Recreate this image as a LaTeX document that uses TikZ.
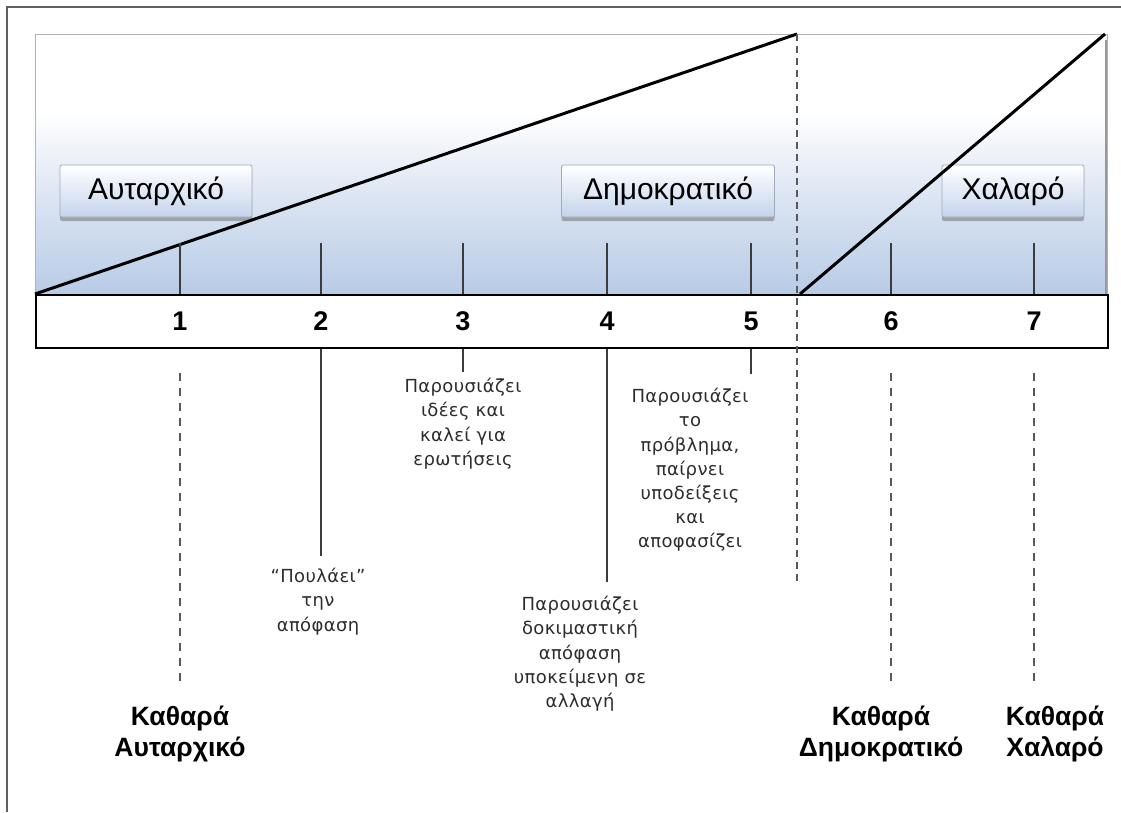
\documentclass[tikz,border=0pt]{standalone}
\usepackage{fontspec}
\setmainfont{Liberation Sans}
\newfontfamily\descfont[LetterSpace=2]{DejaVu Sans}
\usetikzlibrary{shadows}

\definecolor{panelblue}{RGB}{184,203,230}
\definecolor{boxblue}{RGB}{196,212,236}
\definecolor{boxedge}{RGB}{160,170,186}
\definecolor{tickgray}{RGB}{60,60,60}
\definecolor{framegray}{RGB}{95,95,95}
\definecolor{desctext}{RGB}{45,45,45}

% vertical fade of the background panel (path spans 25bp..75bp)
\pgfdeclareverticalshading{panelfade}{100bp}{%
  color(0bp)=(panelblue); color(25bp)=(panelblue);
  color(42bp)=(panelblue!55!white); color(60bp)=(white);
  color(75bp)=(white); color(100bp)=(white)}

\tikzset{
  frameline/.style={framegray, line width=1.6pt},
  panel/.style={shading=panelfade, draw=black!30, line width=0.8pt},
  scalestrip/.style={draw=black, line width=1.6pt, fill=white, inner sep=0pt},
  slope/.style={black, line width=3pt},
  tick/.style={tickgray, line width=1.4pt},
  dashtick/.style={black!65, line width=2.4pt, dash pattern=on 8pt off 7pt},
  divider/.style={black!65, line width=2.2pt, dash pattern=on 7pt off 5pt},
  stylebox/.style={draw=boxedge, line width=0.8pt, rounded corners=2pt,
    top color=white, bottom color=boxblue, minimum height=52pt, inner sep=0pt,
    font=\fontsize{30}{35}\selectfont,
    drop shadow={shadow xshift=0pt, shadow yshift=-4pt, fill=black!55, opacity=0.55}},
  num/.style={font=\bfseries\fontsize{27}{32}\selectfont, inner sep=0pt},
  desc/.style={font=\descfont\fontsize{18}{24.2}\selectfont, text=desctext,
    align=center, inner sep=0pt, anchor=north},
  pure/.style={font=\bfseries\fontsize{26.5}{31}\selectfont, align=center,
    inner sep=0pt, anchor=north}
}

\begin{document}
\begin{tikzpicture}[x=1pt, y=-1pt]
\useasboundingbox (0,0) rectangle (1121,812);

% outer frame (top and left edges)
\draw[frameline] (7,812) -- (7,7) -- (1121,7);

% shaded background panel and its right edge
\path[panel] (35,34) rectangle (1107,294);
\draw[black!40, line width=2pt] (1106,40) -- (1106,294);

% numbered scale strip
\node[scalestrip, minimum width=1072pt, minimum height=53pt, anchor=north west] (strip) at (35,294) {};

% style boxes
\node[stylebox, minimum width=192pt] (aut) at (156,191) {Αυταρχικό};
\node[stylebox, minimum width=213pt] (dem) at (668,191) {Δημοκρατικό};
\node[stylebox, minimum width=142pt] (lax) at (1013,191) {Χαλαρό};

% sloping lines
\coordinate (apexA) at (797,34);
\coordinate (baseB) at (800,294);
\coordinate (apexB) at (1105,34);
\draw[slope] (strip.north west) -- (apexA);
\draw[slope] (baseB) -- (apexB);

% dashed divider between the two ranges
\coordinate (divtop) at (797,34);
\coordinate (divend) at (797,583);
\draw[divider] (divtop) -- (divend);

% scale numbers and ticks above the strip
\foreach \i/\x in {1/180,2/321,3/463,4/607,5/751,6/891,7/1034}{
  \node[num] (n\i) at (\x,321) {\i};
  \coordinate (up\i) at (\x,243);
  \draw[tick] (up\i) -- (up\i |- strip.north);
}

% end points of the lines below the strip
\coordinate (d1s) at (180,373);  \coordinate (d1) at (180,686);
\coordinate (d2) at (321,556);
\coordinate (d3) at (463,372);
\coordinate (d4) at (607,582);
\coordinate (d5) at (751,374);
\coordinate (d6s) at (891,373);  \coordinate (d6) at (891,686);
\coordinate (d7s) at (1034,373); \coordinate (d7) at (1034,686);

\draw[dashtick] (d1s) -- (d1);
\draw[tick] (n2 |- strip.south) -- (d2);
\draw[tick] (n3 |- strip.south) -- (d3);
\draw[tick] (n4 |- strip.south) -- (d4);
\draw[tick] (n5 |- strip.south) -- (d5);
\draw[dashtick] (d6s) -- (d6);
\draw[dashtick] (d7s) -- (d7);

% descriptions
\node[desc] (t2) at (318,568) {“Πουλάει”\\την\\απόφαση};
\node[desc] (t3) at (463,378) {Παρουσιάζει\\ιδέες και\\καλεί για\\ερωτήσεις};
\node[desc] (t4) at (580,596) {Παρουσιάζει\\δοκιμαστική\\απόφαση\\υποκείμενη σε\\αλλαγή};
\node[desc] (t5) at (690,388) {Παρουσιάζει\\το\\πρόβλημα,\\παίρνει\\υποδείξεις\\και\\αποφασίζει};

% pure-style labels
\node[pure] (p1) at (180,706) {Καθαρά\\Αυταρχικό};
\node[pure] (p6) at (881,706) {Καθαρά\\Δημοκρατικό};
\node[pure] (p7) at (1055,706) {Καθαρά\\Χαλαρό};
\end{tikzpicture}
\end{document}
